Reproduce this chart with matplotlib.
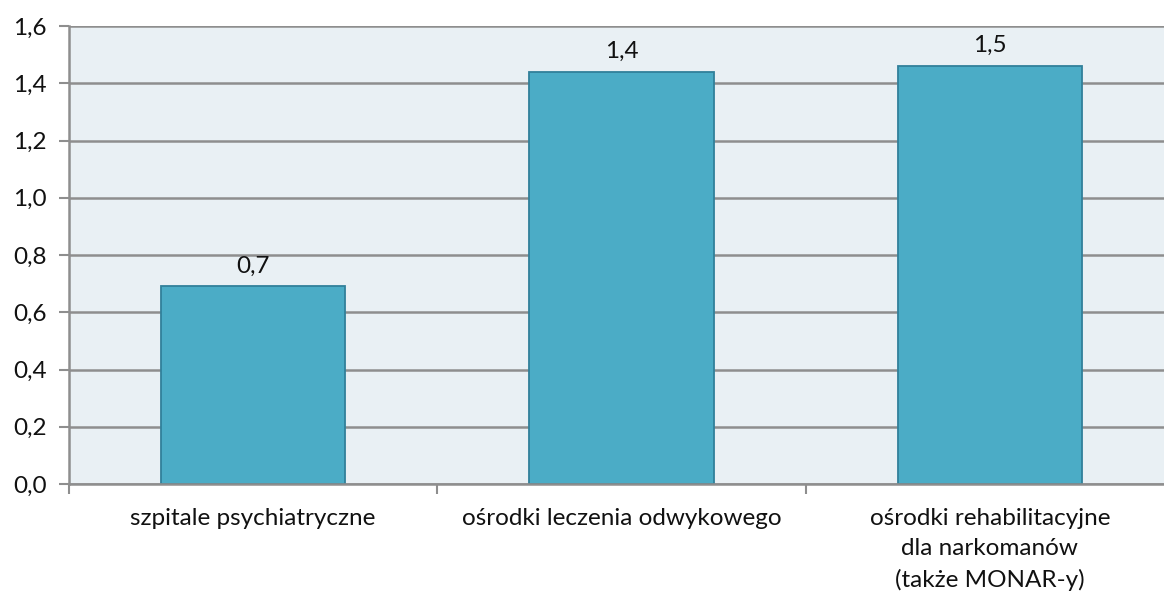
import numpy as np
import matplotlib.pyplot as plt
from matplotlib.ticker import FixedLocator

# wartości (mln osób) dla typów placówek
categories = [
    "szpitale psychiatryczne",
    "ośrodki leczenia odwykowego",
    "ośrodki rehabilitacyjne\ndla narkomanów\n(także MONAR-y)",
]
values = [0.69, 1.44, 1.46]
y_ticks = [0.0, 0.2, 0.4, 0.6, 0.8, 1.0, 1.2, 1.4, 1.6]

BAR = "#4BACC6"
EDGE = "#31809A"
BG = "#E9F0F4"
GRID = "#8E8E8E"
TEXT = "#111111"
FS = 17.5

plt.rcParams["font.family"] = ["Lato", "DejaVu Sans"]

fig = plt.figure(figsize=(11.64, 5.94), dpi=100)
ax = fig.add_axes([69 / 1164, 1 - 484 / 594, 1105 / 1164, 458 / 594])
ax.set_facecolor(BG)

x = np.arange(len(categories))
bars = ax.bar(x, values, width=0.5, color=BAR, edgecolor=EDGE, linewidth=1.3, zorder=3)

for b, v in zip(bars, values):
    ax.text(b.get_x() + b.get_width() / 2, v + 0.035, f"{v:.1f}".replace(".", ","),
            ha="center", va="bottom", fontsize=FS, color=TEXT)

ax.set_xlim(-0.5, len(categories) - 0.5)
ax.set_ylim(0, 1.6)
ax.set_yticks(y_ticks)
ax.set_yticklabels([f"{t:.1f}".replace(".", ",") for t in y_ticks])
ax.yaxis.grid(True, color=GRID, linewidth=1.8, zorder=1)

# separatory kategorii na osi X, etykiety na środku słupków
ax.xaxis.set_major_locator(FixedLocator(np.arange(-0.5, len(categories), 1.0)))
ax.xaxis.set_major_formatter(plt.NullFormatter())
ax.xaxis.set_minor_locator(FixedLocator(x))
ax.set_xticklabels(categories, minor=True, linespacing=1.55)
ax.tick_params(axis="x", which="minor", length=0, pad=17, labelsize=FS, labelcolor=TEXT)
ax.tick_params(axis="x", which="major", length=7, width=1.5, color=GRID)
ax.tick_params(axis="y", length=7, width=1.5, color=GRID, labelsize=FS, labelcolor=TEXT, pad=9)

for s in ("top", "right"):
    ax.spines[s].set_visible(False)
for s in ("left", "bottom"):
    ax.spines[s].set_color(GRID)
    ax.spines[s].set_linewidth(1.8)
    ax.spines[s].set_zorder(4)

fig.savefig("out.png", dpi=100)
